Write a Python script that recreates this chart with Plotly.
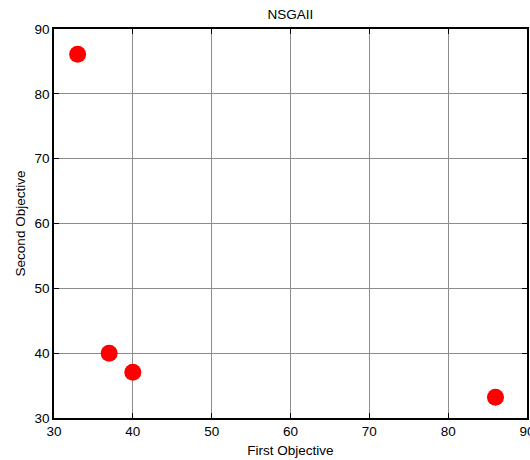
import plotly.graph_objects as go

first_objective = [33, 37, 40, 86]
second_objective = [86.1, 40.0, 37.05, 33.2]
x_ticks = [30, 40, 50, 60, 70, 80, 90]
y_ticks = [30, 40, 50, 60, 70, 80, 90]

fig = go.Figure()
fig.add_trace(go.Scatter(
    x=first_objective, y=second_objective, mode="markers",
    marker=dict(color="#ff0000", size=17, line=dict(width=0)),
    showlegend=False, cliponaxis=False,
))

font = dict(family="Liberation Sans, Arial, sans-serif", size=13.5, color="#000000")
axis_common = dict(
    showline=True, linecolor="#000000", linewidth=1.5, mirror="ticks",
    ticks="inside", ticklen=5, tickcolor="#000000", tickwidth=1,
    showgrid=True, gridcolor="#8c8c8c", gridwidth=1, zeroline=False,
    tickfont=font, ticklabeloverflow="allow",
)
fig.update_layout(
    width=530, height=460,
    margin=dict(l=54, r=3, t=29, b=42),
    paper_bgcolor="#ffffff", plot_bgcolor="#ffffff",
    font=font,
    title=dict(text="NSGAII", x=(54 + 527) / 2 / 530, xanchor="center",
               y=1 - 14 / 460, yanchor="middle", font=font),
    xaxis=dict(range=[30, 90], tickvals=x_ticks, automargin=False,
               title=dict(text="First Objective", font=font, standoff=8), **axis_common),
    yaxis=dict(range=[30, 90], tickvals=y_ticks, automargin=False,
               title=dict(text="Second Objective", font=font, standoff=6), **axis_common),
)
fig.write_html("out.html")
